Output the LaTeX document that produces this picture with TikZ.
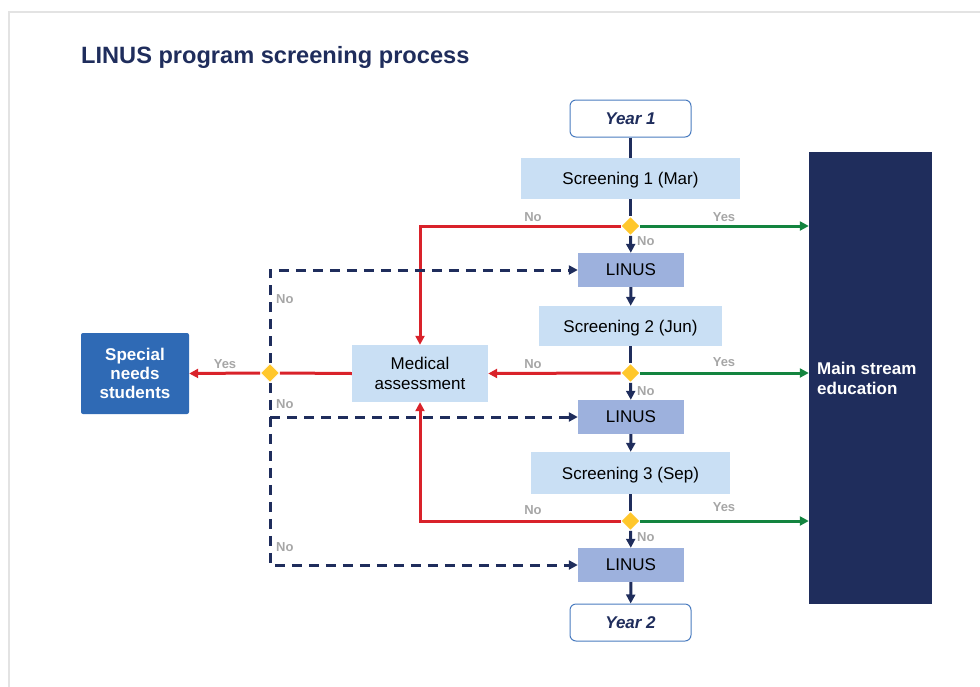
\documentclass[tikz,border=0pt]{standalone}
\usepackage{fontspec}
\setmainfont{Liberation Sans}
\usetikzlibrary{arrows.meta,shapes.geometric}
\definecolor{navy}{HTML}{1F2D5C}
\definecolor{redl}{HTML}{D9222A}
\definecolor{greenl}{HTML}{13843F}
\definecolor{yel}{HTML}{FFC72C}
\definecolor{lbl}{HTML}{A6A6A6}
\definecolor{lblue}{HTML}{C9DFF4}
\definecolor{linusfill}{HTML}{9DB1DD}
\definecolor{snfill}{HTML}{2F6AB5}
\definecolor{yborder}{HTML}{4A7CC0}
\definecolor{frame}{HTML}{E3E3E3}
\tikzset{
  txt/.style={font=\fontsize{17}{20.4}\selectfont, text=black, inner sep=0pt, align=center},
  oneline/.style={text depth=0pt},
  yearbox/.style={txt, oneline, draw=yborder, line width=1pt, fill=white, rounded corners=6pt,
    minimum width=121pt, minimum height=37pt, text=navy, font=\fontsize{17}{20.4}\selectfont\bfseries\itshape},
  screenbox/.style={txt, oneline, fill=lblue, minimum height=41pt},
  linusbox/.style={txt, oneline, fill=linusfill, minimum width=106pt, minimum height=34pt},
  dia/.style={diamond, fill=yel, draw=white, line width=0.8pt, inner sep=0pt, minimum width=19pt, minimum height=19pt},
  lab/.style={font=\fontsize{13}{15}\selectfont\bfseries, text=lbl, inner sep=0pt},
  tip/.style={-{Triangle[length=9pt,width=9pt]}},
  flow/.style={draw=navy, line width=3pt},
  flowarr/.style={flow, tip},
  redarr/.style={draw=redl, line width=3pt, tip},
  redln/.style={draw=redl, line width=3pt},
  greenarr/.style={draw=greenl, line width=3pt, tip},
  dasharr/.style={draw=navy, line width=3pt, dash pattern=on 10pt off 7pt, tip},
}
\begin{document}
\begin{tikzpicture}[x=1pt,y=-1pt]
\useasboundingbox (0,0) rectangle (980,686);
\draw[frame, line width=1.5pt] (9,690) -- (9,12) -- (984,12);
\node[anchor=west, font=\fontsize{23.6}{28}\selectfont\bfseries, text=navy, inner sep=0pt] (title) at (81,57) {LINUS program screening process};

% main column
\node[yearbox] (y1) at (630.5,118.5) {Year 1};
\node[screenbox, minimum width=219pt] (s1) at (630.5,178.5) {Screening 1 (Mar)};
\node[dia] (d1) at (630.5,226) {};
\node[linusbox] (l1) at (631,270) {LINUS};
\node[screenbox, minimum width=183pt, minimum height=40pt] (s2) at (630.5,326) {Screening 2 (Jun)};
\node[dia] (d2) at (630.5,373) {};
\node[linusbox] (l2) at (631,417) {LINUS};
\node[screenbox, minimum width=199pt, minimum height=42pt] (s3) at (630.5,473) {Screening 3 (Sep)};
\node[dia] (d3) at (630.5,521) {};
\node[linusbox] (l3) at (631,565) {LINUS};
\node[yearbox] (y2) at (630.5,622.5) {Year 2};

% main stream
\node[fill=navy, minimum width=123pt, minimum height=452pt, inner sep=0pt] (ms) at (870.5,378) {};
\node[anchor=west, font=\fontsize{17}{20.4}\selectfont\bfseries, text=white, align=left, inner sep=0pt] (mst) at (817,378.5) {Main stream\\education};

% medical and special needs
\node[txt, fill=lblue, minimum width=136pt, minimum height=57pt] (med) at (420,373.5) {Medical\\assessment};
\node[dia] (d4) at (270,373) {};
\node[txt, fill=snfill, rounded corners=2pt, minimum width=108pt, minimum height=81pt, text=white,
  font=\fontsize{17}{19}\selectfont\bfseries] (sn) at (135,373.5) {Special\\needs\\students};

% vertical flow
\draw[flow] (y1) -- (s1);
\draw[flow] (s1) -- (d1);
\draw[flowarr] (d1) -- (l1);
\draw[flowarr] (l1) -- (s2);
\draw[flow] (s2) -- (d2);
\draw[flowarr] (d2) -- (l2);
\draw[flowarr] (l2) -- (s3);
\draw[flow] (s3) -- (d3);
\draw[flowarr] (d3) -- (l3);
\draw[flowarr] (l3) -- (y2);

% yes to main stream
\draw[greenarr] (d1.east) -- (d1 -| ms.west);
\draw[greenarr] (d2.east) -- (d2 -| ms.west);
\draw[greenarr] (d3.east) -- (d3 -| ms.west);

% no to medical
\draw[redarr] (d1.west) -| (med.north);
\draw[redarr] (d2.west) -- (med.east);
\draw[redarr] (d3.west) -| (med.south);
\draw[redln] (med.west) -- (d4.east);
\draw[redarr] (d4.west) -- (sn.east);

% dashed no back to LINUS
\coordinate (c2) at (d4 |- l2);
\draw[dasharr] (d4.north) |- (l1.west);
\draw[dasharr] (d4.south) |- (l3.west);
\draw[dasharr] (c2) -- (l2.west);

% labels
\node[lab] (n1l) at (533,217) {No};
\node[lab] (y1l) at (724,217) {Yes};
\node[lab, anchor=west] (n1d) at (637,241) {No};
\node[lab] (n2l) at (533,364.5) {No};
\node[lab] (y2l) at (724,362) {Yes};
\node[lab, anchor=west] (n2d) at (637,391) {No};
\node[lab] (n3l) at (533,510.5) {No};
\node[lab] (y3l) at (724,507) {Yes};
\node[lab, anchor=west] (n3d) at (637,537) {No};
\node[lab] (y4l) at (225,364.5) {Yes};
\node[lab, anchor=west] (n4a) at (276,299.5) {No};
\node[lab, anchor=west] (n4b) at (276,404.5) {No};
\node[lab, anchor=west] (n4c) at (276,547.5) {No};
\end{tikzpicture}
\end{document}
